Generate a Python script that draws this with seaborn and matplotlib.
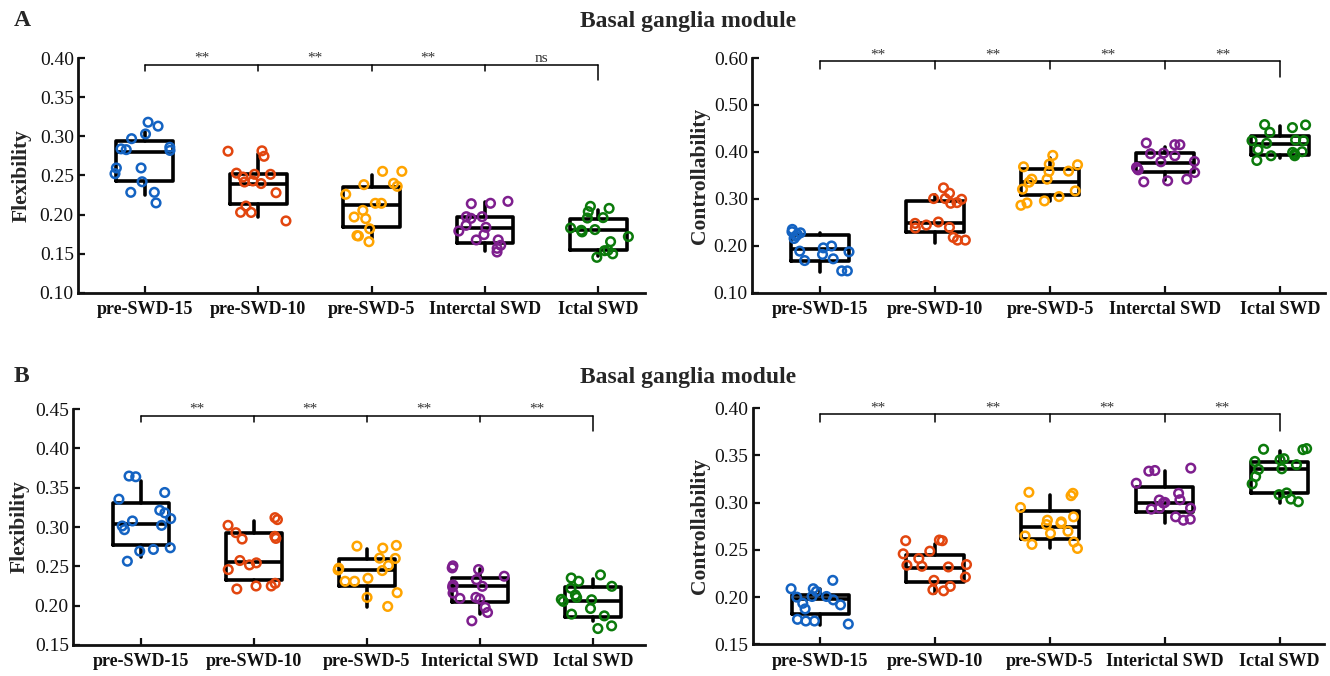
import numpy as np
import pandas as pd
import matplotlib
matplotlib.use("Agg")
import matplotlib.pyplot as plt
import seaborn as sns

sns.set_theme(style="ticks")
plt.rcParams['font.family'] = ['Liberation Serif', 'DejaVu Serif']

categories_A = ["pre-SWD-15", "pre-SWD-10", "pre-SWD-5", "Interctal SWD", "Ictal SWD"]
categories_B = ["pre-SWD-15", "pre-SWD-10", "pre-SWD-5", "Interictal SWD", "Ictal SWD"]
colors = ["#1463C2", "#E2460F", "#FFA400", "#7E1F8E", "#0B7A0B"]
title = "Basal ganglia module"

# ---------- Panel A left: Flexibility ----------
A_flex_pts = [
    [0.318, 0.313, 0.297, 0.303, 0.286, 0.282, 0.284, 0.283, 0.2596, 0.2596, 0.2523, 0.242, 0.2285, 0.2285, 0.215],
    [0.2745, 0.281, 0.2815, 0.248, 0.243, 0.2417, 0.2515, 0.2515, 0.253, 0.2397, 0.228, 0.211, 0.203, 0.2028, 0.192],
    [0.2553, 0.2553, 0.2362, 0.240, 0.2383, 0.226, 0.2145, 0.2145, 0.2055, 0.197, 0.1949, 0.182, 0.1732, 0.1728, 0.1655],
    [0.217, 0.2145, 0.214, 0.1953, 0.1974, 0.1974, 0.1864, 0.1838, 0.1791, 0.1745, 0.1677, 0.1677, 0.1609, 0.157, 0.1523],
    [0.2106, 0.208, 0.2038, 0.1962, 0.1957, 0.1809, 0.183, 0.178, 0.172, 0.180, 0.1655, 0.1545, 0.150, 0.1455, 0.154],
]
# box stats: lower whisker, q1, median, q3, upper whisker
A_flex_box = [
    [0.225, 0.243, 0.2796, 0.2936, 0.306],
    [0.197, 0.2136, 0.239, 0.252, 0.278],
    [0.1698, 0.1838, 0.2128, 0.235, 0.251],
    [0.1536, 0.1643, 0.1834, 0.1974, 0.2157],
    [0.1468, 0.1553, 0.1809, 0.194, 0.2064],
]
A_flex_sig = ["**", "**", "**", "ns"]

# ---------- Panel A right: Controllability ----------
A_ctrl_pts = [
    [0.2303, 0.2353, 0.228, 0.2246, 0.216, 0.221, 0.196, 0.189, 0.1876, 0.200, 0.182, 0.1727, 0.169, 0.147, 0.147],
    [0.3123, 0.3009, 0.2923, 0.2909, 0.3009, 0.2994, 0.3237, 0.2446, 0.251, 0.2382, 0.2481, 0.2396, 0.2182, 0.2125, 0.2125],
    [0.3927, 0.3685, 0.3742, 0.3728, 0.3593, 0.3585, 0.3422, 0.3422, 0.3358, 0.3208, 0.3172, 0.3051, 0.2916, 0.2959, 0.2866],
    [0.4191, 0.4155, 0.4155, 0.3977, 0.3963, 0.392, 0.3799, 0.3792, 0.365, 0.3671, 0.3621, 0.3564, 0.3386, 0.3422, 0.3365],
    [0.4583, 0.4519, 0.4575, 0.4419, 0.4241, 0.4241, 0.4184, 0.4255, 0.4049, 0.3991, 0.4006, 0.392, 0.392, 0.3956, 0.382],
]
A_ctrl_box = [
    [0.1442, 0.169, 0.194, 0.224, 0.228],
    [0.2054, 0.2296, 0.2481, 0.2966, 0.308],
    [0.2959, 0.308, 0.3365, 0.3635, 0.3863],
    [0.340, 0.3564, 0.3764, 0.397, 0.4098],
    [0.3863, 0.3934, 0.4177, 0.4348, 0.4561],
]
A_ctrl_sig = ["**", "**", "**", "**"]

# ---------- Panel B left: Flexibility ----------
B_flex_pts = [
    [0.3648, 0.3639, 0.3439, 0.3354, 0.3179, 0.3213, 0.3107, 0.3077, 0.3013, 0.2966, 0.3021, 0.2736, 0.2715, 0.2693, 0.2565],
    [0.3119, 0.3094, 0.3021, 0.2928, 0.2881, 0.2855, 0.2847, 0.2574, 0.2518, 0.2544, 0.2459, 0.2284, 0.225, 0.225, 0.2212],
    [0.2766, 0.2732, 0.2757, 0.260, 0.2604, 0.251, 0.2455, 0.2476, 0.2446, 0.231, 0.2348, 0.231, 0.2165, 0.2105, 0.199],
    [0.2506, 0.2459, 0.248, 0.2374, 0.2331, 0.2237, 0.2263, 0.2246, 0.216, 0.2092, 0.2105, 0.2084, 0.1977, 0.1913, 0.1807],
    [0.2391, 0.2352, 0.231, 0.2246, 0.222, 0.2135, 0.2105, 0.2075, 0.208, 0.2054, 0.1964, 0.1892, 0.187, 0.1743, 0.1709],
]
B_flex_box = [
    [0.2625, 0.2774, 0.3043, 0.3311, 0.3588],
    [0.2310, 0.2322, 0.2553, 0.2928, 0.3077],
    [0.1977, 0.225, 0.2455, 0.2587, 0.2723],
    [0.1892, 0.205, 0.2254, 0.2357, 0.2463],
    [0.1800, 0.1858, 0.2054, 0.2233, 0.2339],
]
B_flex_sig = ["**", "**", "**", "**"]

# ---------- Panel B right: Controllability ----------
B_ctrl_pts = [
    [0.2177, 0.2088, 0.2088, 0.2059, 0.2006, 0.2006, 0.1999, 0.1934, 0.1917, 0.1874, 0.1746, 0.1714, 0.1746, 0.1764, 0.197],
    [0.2604, 0.2597, 0.2597, 0.2486, 0.2458, 0.2408, 0.2319, 0.2337, 0.2326, 0.2344, 0.2212, 0.2177, 0.2113, 0.2066, 0.2077],
    [0.3099, 0.311, 0.3074, 0.2949, 0.285, 0.2796, 0.2768, 0.2782, 0.2814, 0.2697, 0.2647, 0.2675, 0.2583, 0.2515, 0.2558],
    [0.3334, 0.3366, 0.3341, 0.3206, 0.3099, 0.3028, 0.3031, 0.2996, 0.3003, 0.2942, 0.2932, 0.2942, 0.285, 0.2814, 0.2825],
    [0.3566, 0.3573, 0.3562, 0.3455, 0.3466, 0.3437, 0.3402, 0.3352, 0.3359, 0.3277, 0.3199, 0.3103, 0.3085, 0.3038, 0.301],
]
B_ctrl_box = [
    [0.1703, 0.182, 0.1977, 0.2024, 0.2084],
    [0.2041, 0.2162, 0.2305, 0.2444, 0.2558],
    [0.2515, 0.2611, 0.2746, 0.2914, 0.3085],
    [0.2782, 0.2896, 0.2996, 0.317, 0.3334],
    [0.2992, 0.3099, 0.3352, 0.343, 0.3551],
]
B_ctrl_sig = ["**", "**", "**", "**"]

# bracket levels: (line y, left/inner drop y, right drop y)
A_flex_br = (0.3915, 0.384, 0.3715)
A_ctrl_br = (0.593, 0.577, 0.559)
B_flex_br = (0.4415, 0.433, 0.4223)
B_ctrl_br = (0.3936, 0.3858, 0.3758)

np.random.seed(3)
fig = plt.figure(figsize=(13.3, 6.76), dpi=100)


def panel(rect, cats, pts, box, sig, br, ylabel, ylim, yticks, xlim, ylab_x):
    ax = fig.add_axes(rect)
    df = pd.DataFrame({
        "cond": np.repeat(cats, [len(p) for p in pts]),
        "val": np.concatenate([np.asarray(p) for p in pts]),
    })
    stats = [dict(whislo=b[0], q1=b[1], med=b[2], q3=b[3], whishi=b[4], fliers=[]) for b in box]
    ax.bxp(stats, positions=range(len(cats)), widths=0.5, showfliers=False, showcaps=False,
           boxprops=dict(color="black", linewidth=2.6),
           medianprops=dict(color="black", linewidth=2.6),
           whiskerprops=dict(color="black", linewidth=2.6),
           manage_ticks=False, zorder=2)
    n0 = len(ax.collections)
    sns.stripplot(data=df, x="cond", y="val", hue="cond", order=cats, hue_order=cats,
                  palette=colors, jitter=0.28, size=6.2, linewidth=0, legend=False,
                  ax=ax, zorder=3)
    for coll in ax.collections[n0:]:
        fc = coll.get_facecolors()
        coll.set_edgecolors(fc)
        coll.set_facecolors("none")
        coll.set_linewidths(1.8)
    # brackets
    yl, yd, yr = br
    n = len(cats)
    ax.plot([0, n - 1], [yl, yl], color="black", lw=1.1, clip_on=False, zorder=4)
    for i in range(n - 1):
        ax.plot([i, i], [yd, yl], color="black", lw=1.1, clip_on=False, zorder=4)
    ax.plot([n - 1, n - 1], [yr, yl], color="black", lw=1.1, clip_on=False, zorder=4)
    for i, s in enumerate(sig):
        ax.text(i + 0.5, yl, s, ha="center", va="bottom", fontsize=11,
                color="#333333", clip_on=False)
    ax.set_xlim(*xlim)
    ax.set_ylim(*ylim)
    ax.set_yticks(yticks)
    ax.set_yticklabels([f"{t:.2f}" for t in yticks], fontsize=14)
    ax.set_xticks(range(n))
    ax.set_xticklabels(cats, fontsize=13, fontweight="bold")
    ax.set_xlabel("")
    ax.set_ylabel(ylabel, fontsize=15.5, fontweight="bold")
    ax.yaxis.set_label_coords(ylab_x, 0.5)
    sns.despine(ax=ax)
    for sp in ["left", "bottom"]:
        ax.spines[sp].set_linewidth(2.0)
        ax.spines[sp].set_color("#111111")
    ax.tick_params(direction="in", length=5, width=1.6, colors="#111111", pad=3)
    ax.tick_params(axis="x", pad=6)
    ax.set_facecolor("white")
    return ax


panel([0.0586, 0.5666, 0.4263, 0.3476], categories_A, A_flex_pts, A_flex_box, A_flex_sig,
      A_flex_br, "Flexibility", (0.10, 0.40), np.arange(0.10, 0.401, 0.05), (-0.59, 4.41), -0.082)
panel([0.5654, 0.5666, 0.4308, 0.3476], categories_A, A_ctrl_pts, A_ctrl_box, A_ctrl_sig,
      A_ctrl_br, "Controllability", (0.10, 0.60), np.arange(0.10, 0.601, 0.10), (-0.59, 4.39), -0.074)
panel([0.0549, 0.0459, 0.4300, 0.3490], categories_B, B_flex_pts, B_flex_box, B_flex_sig,
      B_flex_br, "Flexibility", (0.15, 0.45), np.arange(0.15, 0.451, 0.05), (-0.60, 4.46), -0.076)
panel([0.5658, 0.0470, 0.4300, 0.3490], categories_B, B_ctrl_pts, B_ctrl_box, B_ctrl_sig,
      B_ctrl_br, "Controllability", (0.15, 0.40), np.arange(0.15, 0.401, 0.05), (-0.59, 4.39), -0.074)

fig.text(0.517, 1 - 22 / 676, title, ha="center", va="center", fontsize=17, fontweight="bold")
fig.text(0.517, 1 - 377 / 676, title, ha="center", va="center", fontsize=17, fontweight="bold")
fig.text(0.010, 1 - 20 / 676, "A", ha="left", va="center", fontsize=17, fontweight="bold")
fig.text(0.010, 1 - 377 / 676, "B", ha="left", va="center", fontsize=17, fontweight="bold")

fig.savefig("out.png", dpi=100, facecolor="white")
